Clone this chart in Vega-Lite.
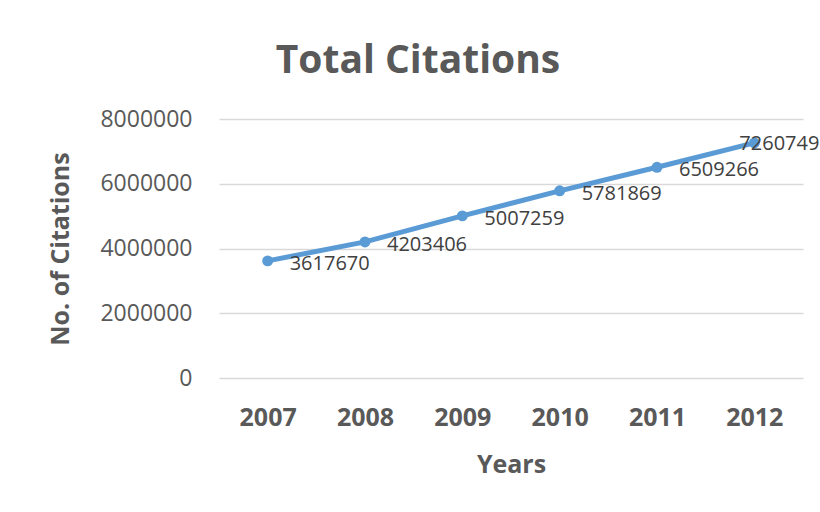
{
  "$schema": "https://vega.github.io/schema/vega-lite/v6.json",
  "autosize": {"type": "none"},
  "padding": {"left": 219, "top": 119, "right": 17, "bottom": 134},
  "width": 584,
  "height": 259,
  "background": "white",
  "title": {
    "text": "Total Citations",
    "font": "Open Sans",
    "fontSize": 39,
    "fontWeight": "bold",
    "color": "#595959",
    "anchor": "middle",
    "dx": -93,
    "baseline": "alphabetic",
    "offset": -4
  },
  "config": {
    "view": {"stroke": null},
    "font": "Open Sans"
  },
  "data": {
    "values": [
      {"year": "2007", "citations": 3617670},
      {"year": "2008", "citations": 4203406},
      {"year": "2009", "citations": 5007259},
      {"year": "2010", "citations": 5781869},
      {"year": "2011", "citations": 6509266},
      {"year": "2012", "citations": 7260749}
    ]
  },
  "encoding": {
    "x": {
      "field": "year",
      "type": "ordinal",
      "scale": {"type": "point", "padding": 0.5},
      "axis": {
        "title": "Years",
        "labelAngle": 0,
        "labelFont": "Open Sans",
        "labelFontSize": 25,
        "labelFontWeight": "bold",
        "labelColor": "#595959",
        "labelPadding": 27,
        "ticks": false,
        "domain": false,
        "titleFont": "Open Sans",
        "titleFontSize": 25,
        "titleFontWeight": "bold",
        "titleColor": "#595959",
        "titlePadding": 22
      }
    },
    "y": {
      "field": "citations",
      "type": "quantitative",
      "scale": {"domain": [0, 8000000], "nice": false},
      "axis": {
        "title": "No. of Citations",
        "values": [0, 2000000, 4000000, 6000000, 8000000],
        "format": "d",
        "labelFont": "Open Sans",
        "labelFontSize": 23,
        "labelColor": "#595959",
        "labelPadding": 27,
        "ticks": false,
        "domain": false,
        "grid": true,
        "gridColor": "#D9D9D9",
        "gridWidth": 1.5,
        "titleFont": "Open Sans",
        "titleFontSize": 25,
        "titleFontWeight": "bold",
        "titleColor": "#595959",
        "titlePadding": 26
      }
    }
  },
  "layer": [
    {
      "mark": {"type": "line", "color": "#5B9BD5", "strokeWidth": 5, "point": {"filled": true, "size": 120, "color": "#5B9BD5"}}
    },
    {
      "transform": [{"filter": "datum.year != '2012'"}],
      "mark": {"type": "text", "align": "left", "baseline": "middle", "dx": 22, "dy": 3, "font": "Open Sans", "fontSize": 20, "color": "#404040"},
      "encoding": {"text": {"field": "citations", "type": "quantitative", "format": "d"}}
    },
    {
      "transform": [{"filter": "datum.year == '2012'"}],
      "mark": {"type": "text", "align": "left", "baseline": "middle", "dx": -15, "dy": 1, "font": "Open Sans", "fontSize": 20, "color": "#404040"},
      "encoding": {"text": {"field": "citations", "type": "quantitative", "format": "d"}}
    }
  ]
}
